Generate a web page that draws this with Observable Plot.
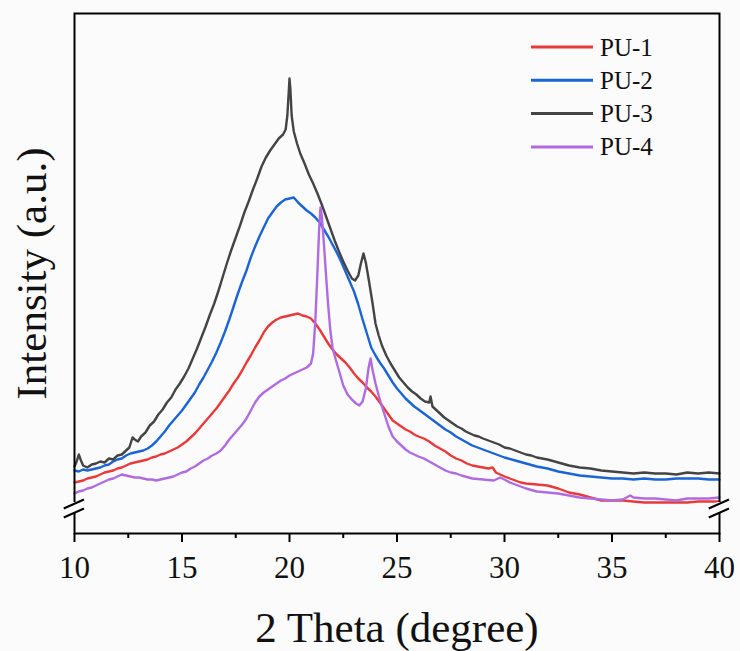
<!DOCTYPE html>
<html><head><meta charset="utf-8">
<script src="https://cdn.jsdelivr.net/npm/d3@7"></script>
<script src="https://cdn.jsdelivr.net/npm/@observablehq/plot@0.6"></script>
<style>
body{margin:0;background:#fbfbfb;}
#chart{width:740px;height:651px;}
</style></head><body><div id="chart"></div>
<script>
const pu1 = [[10.0,51],[10.2,52],[10.4,53],[10.6,55],[10.8,56],[11.0,57],[11.2,59],[11.4,61],[11.6,62],[11.8,63],[12.0,65],[12.2,66],[12.4,68],[12.6,70],[12.8,71],[13.0,72],[13.2,73],[13.4,74],[13.6,76],[13.8,77],[14.0,79],[14.2,80],[14.4,82],[14.6,84],[14.8,86],[15.0,89],[15.2,92],[15.4,96],[15.6,100],[15.8,105],[16.0,110],[16.2,115],[16.4,120],[16.6,125],[16.8,131],[17.0,137],[17.2,143],[17.4,150],[17.6,156],[17.8,163],[18.0,171],[18.2,178],[18.4,186],[18.6,193],[18.8,201],[19.0,207],[19.2,211],[19.4,214],[19.6,216],[19.8,217],[20.0,218],[20.2,219],[20.4,220],[20.6,218],[20.8,217],[21.0,215],[21.2,210],[21.4,204],[21.6,197],[21.8,190],[22.0,184],[22.2,179],[22.4,175],[22.6,171],[22.8,166],[23.0,160],[23.2,155],[23.4,151],[23.6,146],[23.8,142],[24.0,137],[24.2,131],[24.4,125],[24.6,119],[24.8,113],[25.0,110],[25.2,107],[25.4,104],[25.6,102],[25.8,99],[26.0,97],[26.25,95],[26.5,92],[26.75,88],[27.0,85],[27.25,82],[27.5,78],[27.75,75],[28.0,73],[28.25,70],[28.5,68],[28.75,67],[29.0,66],[29.25,65],[29.45,66],[29.6,61],[29.8,59],[30.0,57],[30.25,55],[30.5,53],[30.75,51],[31.0,50],[31.5,49],[32.0,48],[32.5,45],[33.0,41],[33.5,39],[34.0,36],[34.5,33],[35.0,33],[35.5,33],[36.0,32],[36.5,31],[37.0,31],[37.5,31],[38.0,31],[38.5,31],[39.0,32],[39.5,32],[40.0,32]];
const pu2 = [[10.0,63],[10.2,62],[10.4,64],[10.6,63],[10.8,64],[11.0,65],[11.2,66],[11.4,68],[11.6,69],[11.8,72],[12.0,74],[12.2,75],[12.4,78],[12.6,80],[12.8,81],[13.0,82],[13.2,83],[13.4,85],[13.6,88],[13.8,92],[14.0,97],[14.2,102],[14.4,108],[14.6,113],[14.8,118],[15.0,123],[15.2,129],[15.4,135],[15.6,141],[15.8,149],[16.0,156],[16.2,164],[16.4,172],[16.6,181],[16.8,191],[17.0,202],[17.2,214],[17.4,227],[17.6,240],[17.8,252],[18.0,263],[18.2,276],[18.4,287],[18.6,297],[18.8,306],[19.0,315],[19.2,321],[19.4,327],[19.6,331],[19.8,334],[20.0,335],[20.2,336],[20.4,331],[20.6,327],[20.8,323],[21.0,320],[21.2,316],[21.4,311],[21.6,304],[21.8,297],[22.0,289],[22.2,281],[22.4,272],[22.6,262],[22.8,252],[23.0,242],[23.2,229],[23.4,214],[23.6,200],[23.8,186],[24.0,178],[24.2,171],[24.4,165],[24.6,158],[24.8,151],[25.0,145],[25.2,140],[25.4,135],[25.6,131],[25.8,127],[26.0,124],[26.25,120],[26.5,116],[26.75,112],[27.0,108],[27.25,104],[27.5,101],[27.75,97],[28.0,94],[28.25,91],[28.5,88],[28.75,86],[29.0,84],[29.25,82],[29.5,80],[29.75,78],[30.0,76],[30.5,73],[31.0,70],[31.5,67],[32.0,65],[32.5,62],[33.0,60],[33.5,58],[34.0,57],[34.5,56],[35.0,55],[35.5,55],[36.0,54],[36.5,55],[37.0,54],[37.5,54],[38.0,55],[38.5,55],[39.0,55],[39.5,54],[40.0,54]];
const pu3 = [[10.0,67],[10.1,72],[10.2,79],[10.3,73],[10.4,68],[10.6,66],[10.8,69],[11.0,70],[11.2,72],[11.4,71],[11.6,75],[11.8,74],[12.0,78],[12.2,79],[12.4,83],[12.55,86],[12.7,96],[12.8,94],[12.95,92],[13.1,97],[13.3,101],[13.5,108],[13.7,112],[13.9,119],[14.1,124],[14.3,131],[14.5,136],[14.7,144],[14.9,150],[15.1,157],[15.3,165],[15.5,175],[15.7,185],[15.9,196],[16.1,207],[16.3,219],[16.5,230],[16.7,243],[16.9,257],[17.1,271],[17.3,284],[17.5,296],[17.7,308],[17.9,321],[18.1,332],[18.3,344],[18.5,355],[18.7,367],[18.9,376],[19.1,383],[19.3,389],[19.5,395],[19.7,399],[19.82,404],[19.9,418],[19.96,440],[20.0,455],[20.04,445],[20.1,418],[20.2,402],[20.35,390],[20.5,380],[20.7,370],[20.9,359],[21.1,350],[21.3,340],[21.5,329],[21.7,317],[21.9,305],[22.1,293],[22.3,282],[22.5,272],[22.7,263],[22.9,255],[23.05,253],[23.2,258],[23.32,270],[23.44,280],[23.55,271],[23.7,252],[23.85,232],[24.0,210],[24.15,198],[24.3,188],[24.5,178],[24.7,170],[24.9,163],[25.1,156],[25.3,151],[25.5,146],[25.7,142],[25.9,139],[26.1,135],[26.3,132],[26.5,131],[26.56,137],[26.65,127],[26.8,124],[27.0,120],[27.2,116],[27.4,113],[27.6,110],[27.8,107],[28.0,105],[28.2,102],[28.4,100],[28.6,98],[28.8,97],[29.0,95],[29.25,93],[29.5,91],[29.75,89],[30.0,86],[30.25,85],[30.5,83],[30.75,81],[31.0,79],[31.25,78],[31.5,76],[31.75,75],[32.0,74],[32.5,71],[33.0,68],[33.5,66],[34.0,65],[34.5,63],[35.0,62],[35.5,61],[36.0,60],[36.5,61],[37.0,60],[37.5,60],[38.0,59],[38.5,61],[39.0,60],[39.5,61],[40.0,60]];
const pu4 = [[10.0,40],[10.2,42],[10.4,43],[10.6,45],[10.8,46],[11.0,48],[11.2,50],[11.4,52],[11.6,54],[11.8,55],[12.0,57],[12.2,59],[12.4,58],[12.6,57],[12.8,56],[13.0,56],[13.2,55],[13.4,54],[13.6,54],[13.8,53],[14.0,54],[14.2,55],[14.4,56],[14.6,57],[14.8,59],[15.0,61],[15.2,62],[15.4,65],[15.6,67],[15.8,70],[16.0,73],[16.2,75],[16.4,78],[16.6,80],[16.8,83],[17.0,88],[17.2,94],[17.4,99],[17.6,104],[17.8,109],[18.0,115],[18.2,123],[18.4,131],[18.6,137],[18.8,141],[19.0,144],[19.2,147],[19.4,150],[19.6,153],[19.8,155],[20.0,158],[20.2,160],[20.4,162],[20.6,164],[20.8,166],[21.0,170],[21.1,180],[21.2,212],[21.3,262],[21.38,305],[21.44,326],[21.5,318],[21.6,290],[21.7,258],[21.8,228],[21.9,203],[22.0,186],[22.15,174],[22.3,163],[22.5,148],[22.7,139],[22.9,134],[23.1,130],[23.25,128],[23.4,132],[23.55,145],[23.68,166],[23.77,175],[23.86,164],[24.0,150],[24.15,138],[24.3,127],[24.45,117],[24.6,107],[24.8,97],[25.0,92],[25.2,88],[25.4,84],[25.6,81],[25.8,79],[26.0,77],[26.25,75],[26.5,72],[26.75,69],[27.0,66],[27.25,63],[27.5,61],[27.75,60],[28.0,58],[28.5,55],[29.0,54],[29.5,53],[29.8,56],[30.0,54],[30.25,51],[30.5,49],[30.75,47],[31.0,45],[31.5,42],[32.0,41],[32.5,40],[33.0,38],[33.5,36],[34.0,35],[34.5,34],[35.0,33],[35.5,34],[35.85,38],[36.0,36],[36.5,35],[37.0,35],[37.5,34],[38.0,33],[38.5,35],[39.0,35],[39.5,35],[40.0,36]];

const seriesNames = ["PU-1", "PU-2", "PU-3", "PU-4"];
const seriesColors = ["#e83a3a", "#1a64d6", "#444444", "#b06be0"];
const seriesData = [pu1, pu2, pu3, pu4];
const majorTicks = [10, 15, 20, 25, 30, 35, 40];
const minorTicks = [12.5, 17.5, 22.5, 27.5, 32.5, 37.5];
const breakAt = [10, 40];
const xLabel = "2 Theta (degree)";
const yLabel = "Intensity (a.u.)";

const rows = [];
seriesData.forEach((d, i) => d.forEach(([x, y]) => rows.push({x, y, s: seriesNames[i]})));

const bg = "#fbfbfb";
const font = "'Liberation Serif','Times New Roman',serif";

const plot = Plot.plot({
  width: 740, height: 651,
  marginLeft: 74, marginRight: 21, marginTop: 13, marginBottom: 118,
  style: {background: bg, fontFamily: font, color: "#000", overflow: "visible"},
  x: {domain: [10, 40]},
  y: {domain: [0, 520], axis: null},
  color: {domain: seriesNames, range: seriesColors},
  marks: [
    Plot.line(rows, {x: "x", y: "y", z: "s", stroke: "s", strokeWidth: 2.4, strokeLinejoin: "round"}),
    Plot.frame({stroke: "#000", strokeWidth: 2}),
    Plot.ruleX(breakAt, {y1: 20, y2: 31, stroke: bg, strokeWidth: 6}),
    Plot.link(breakAt, {x1: d => d - 0.5, x2: d => d + 0.44, y1: 25, y2: 34, stroke: "#000", strokeWidth: 2}),
    Plot.link(breakAt, {x1: d => d - 0.5, x2: d => d + 0.44, y1: 16, y2: 25, stroke: "#000", strokeWidth: 2}),
    Plot.axisX({ticks: majorTicks, tickSize: 9, tickPadding: 13, tickFormat: d => String(d), fontSize: 31, strokeWidth: 2, stroke: "#000", fill: "#111", label: null}),
    Plot.axisX({ticks: minorTicks, tickSize: 5, tickFormat: null, text: null, strokeWidth: 2, stroke: "#000", label: null}),
    Plot.text([xLabel], {frameAnchor: "bottom", lineAnchor: "middle", dy: 95, fontSize: 43, fill: "#111", text: d => d}),
    Plot.text([yLabel], {frameAnchor: "left", lineAnchor: "middle", textAnchor: "middle", rotate: -90, dx: -42, fontSize: 43, fill: "#111", text: d => d})
  ]
});

// legend (inside the plot area, top right) drawn into the same SVG
const svg = d3.select(plot);
const lg = svg.append("g").attr("font-family", font).attr("font-size", 25).attr("text-anchor", "start");
seriesNames.forEach((n, i) => {
  const cy = 47 + i * 33.3;
  lg.append("line").attr("x1", 531).attr("x2", 593).attr("y1", cy).attr("y2", cy)
    .attr("stroke", seriesColors[i]).attr("stroke-width", 3);
  lg.append("text").attr("x", 600).attr("y", cy).attr("dy", "0.34em")
    .attr("text-anchor", "start").attr("fill", "#111").text(n);
});
document.getElementById("chart").appendChild(plot);
</script>
</body></html>
